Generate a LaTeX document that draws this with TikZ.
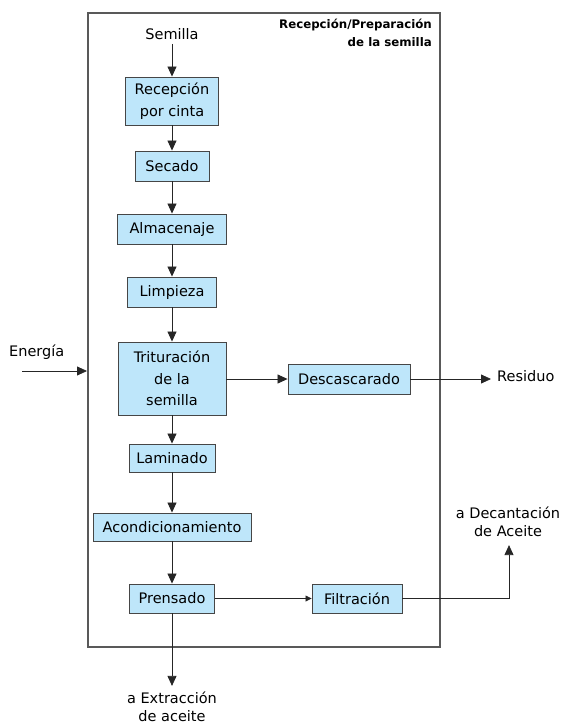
\documentclass[tikz,border=0pt]{standalone}
\usepackage{fontspec}
\setmainfont{DejaVu Sans}
\usetikzlibrary{arrows.meta,positioning,calc}
\definecolor{boxfill}{RGB}{190,230,250}
\definecolor{boxline}{RGB}{70,70,70}
\begin{document}
\begin{tikzpicture}[x=1pt,y=-1pt,
  proc/.style={draw=boxline,line width=0.9pt,fill=boxfill,inner sep=0pt,align=center,
    font=\fontsize{14.5}{21.5}\selectfont},
  lbl/.style={inner sep=0pt,align=center,font=\fontsize{14.5}{18}\selectfont},
  flow/.style={draw=black!85,line width=0.8pt,-{Triangle[length=10pt,width=9pt]}},
  flowsmall/.style={draw=black!85,line width=0.8pt,-{Triangle[length=6pt,width=6pt]}}]
\useasboundingbox (0,0) rectangle (562,724);
% outer frame
\node[draw=black!65,line width=1.2pt,minimum width=352pt,minimum height=634pt,inner sep=0pt] (frame) at (264,330) {};
\node[anchor=north east,inner sep=0pt,align=right,font=\fontsize{11.8}{18}\selectfont\bfseries] (title) at (432,19) {Recepción/Preparación\\de la semilla};
% process boxes
\node[proc,minimum width=93pt,minimum height=48pt] (rec) at (172,101) {Recepción\\por cinta};
\node[proc,minimum width=74pt,minimum height=30pt] (sec) at (172,166) {Secado};
\node[proc,minimum width=109pt,minimum height=30pt] (alm) at (172,229) {Almacenaje};
\node[proc,minimum width=89pt,minimum height=30pt] (lim) at (172,292) {Limpieza};
\node[proc,minimum width=108pt,minimum height=73pt] (tri) at (172,378.5) {Trituración\\de la\\semilla};
\node[proc,minimum width=122pt,minimum height=30pt] (des) at (349,379) {Descascarado};
\node[proc,minimum width=86pt,minimum height=28pt] (lam) at (172,458) {Laminado};
\node[proc,minimum width=158pt,minimum height=28pt] (aco) at (172,527) {Acondicionamiento};
\node[proc,minimum width=85pt,minimum height=29pt] (pre) at (172,598.5) {Prensado};
\node[proc,minimum width=90pt,minimum height=29pt] (fil) at (357,598.5) {Filtración};
% labels
\node[lbl] (sem) at (172,34) {Semilla};
\node[lbl,anchor=west] (ene) at (9,352) {Energía};
\node[lbl,anchor=west] (res) at (497,376) {Residuo};
\node[lbl] (dec) at (508,522) {a Decantación\\de Aceite};
\node[lbl] (ext) at (172,707) {a Extracción\\de aceite};
\coordinate (e1) at (22,371);
\coordinate (e2) at (87,371);
% connectors
\draw[flow] (sem.south) ++(0,4) -- (rec.north);
\draw[flow] (rec) -- (sec);
\draw[flow] (sec) -- (alm);
\draw[flow] (alm) -- (lim);
\draw[flow] (lim) -- (tri);
\draw[flow] (tri) -- (lam);
\draw[flow] (lam) -- (aco);
\draw[flow] (aco) -- (pre);
\draw[flow] (pre.south) -- ($(ext.north)+(0,-6)$);
\draw[flow] (e1) -- (e2);
\draw[flow] (tri.east |- des.west) -- (des.west);
\draw[flow] (des.east) -- ($(res.west)+(-6,3)$);
\draw[flowsmall] (pre) -- (fil);
\draw[flow] (fil.east) -| ($(dec.south)+(1,8)$);
\end{tikzpicture}
\end{document}
